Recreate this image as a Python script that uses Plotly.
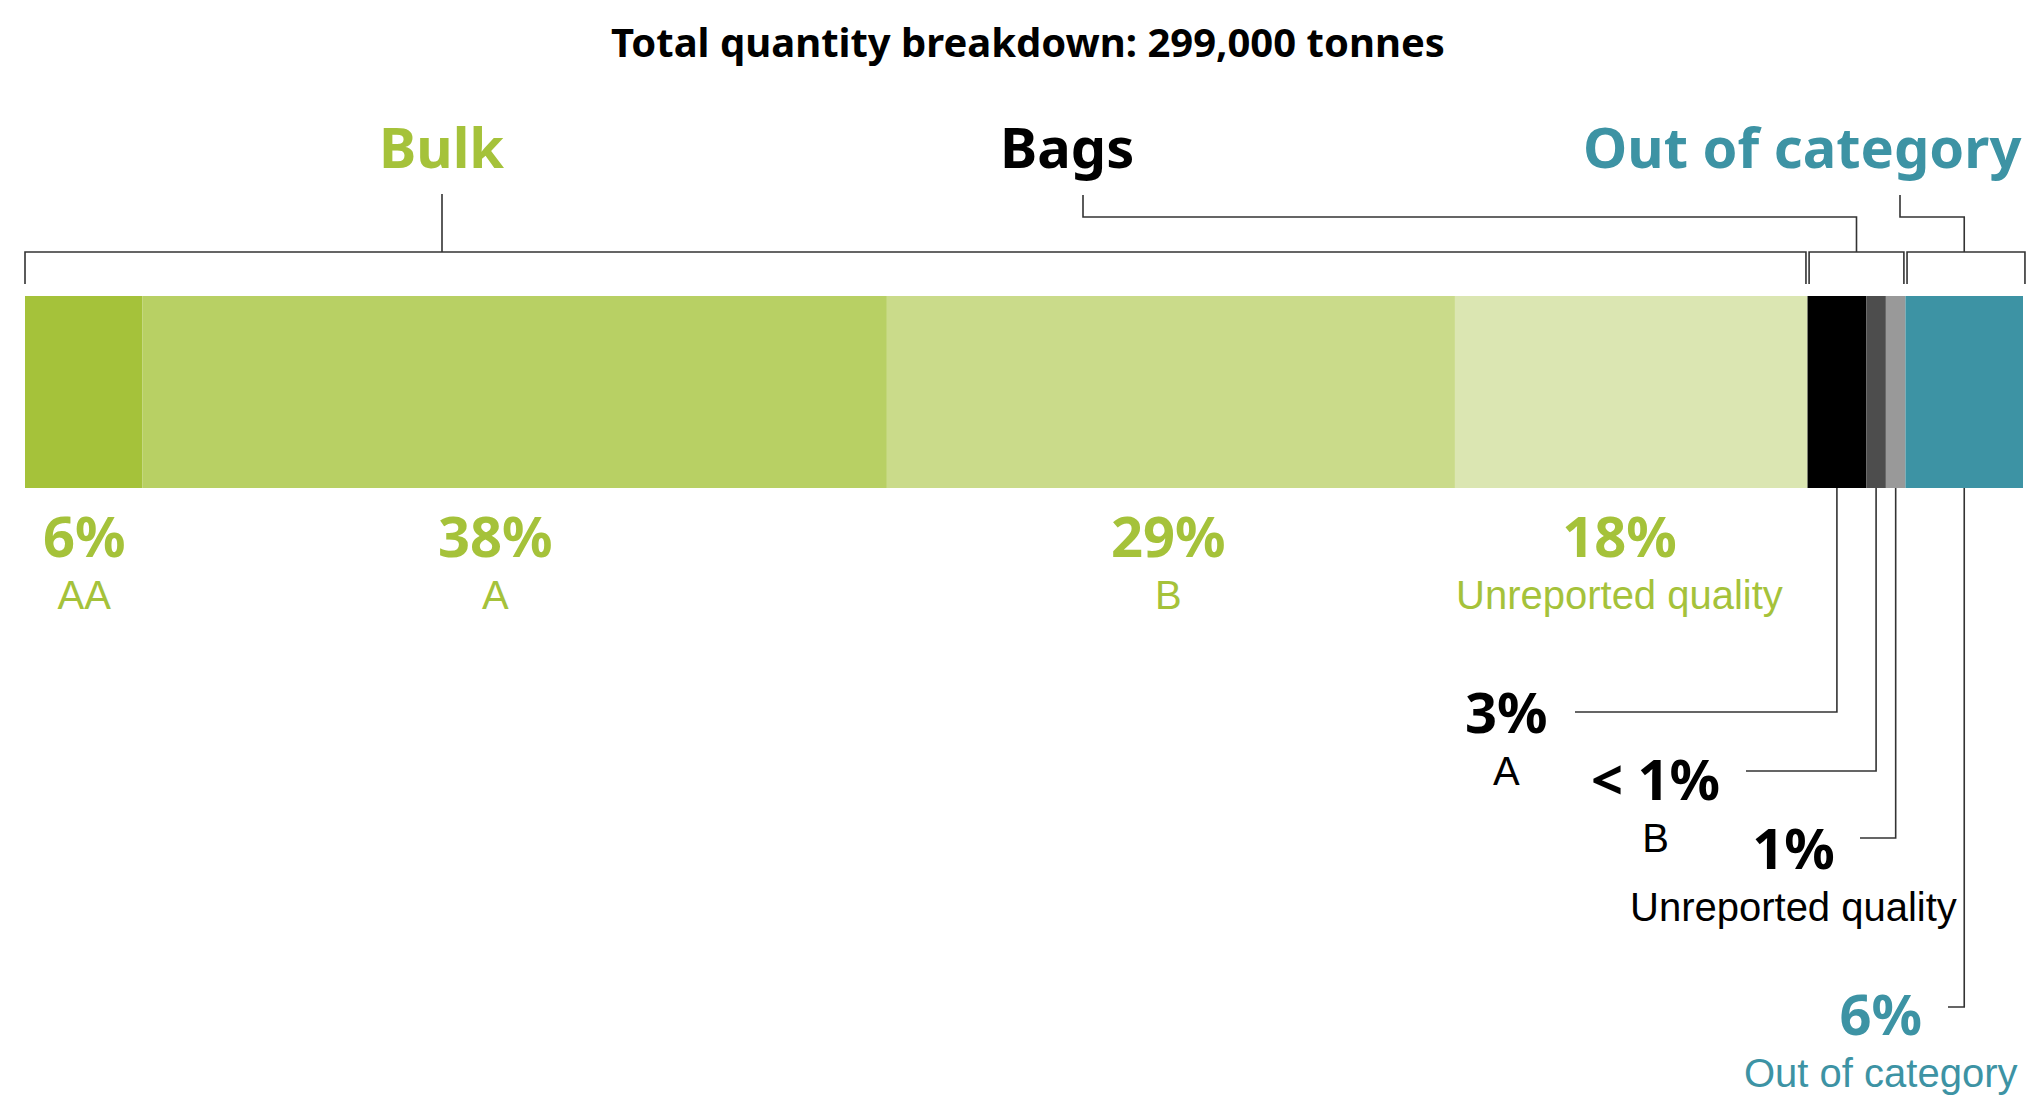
import plotly.graph_objects as go

# ---- data -------------------------------------------------------------
segments = ["Bulk AA", "Bulk A", "Bulk B", "Bulk unreported",
            "Bags A", "Bags B", "Bags unreported", "Out of category"]
shares = [6, 38, 29, 18, 3, 1, 1, 6]                      # percent of total
pct_labels = ["6%", "38%", "29%", "18%", "3%", "< 1%", "1%", "6%"]
sub_labels = ["AA", "A", "B", "Unreported quality",
              "A", "B", "Unreported quality", "Out of category"]
groups = ["Bulk", "Bags", "Out of category"]
group_members = [[0, 1, 2, 3], [4, 5, 6], [7]]
title_text = "Total quantity breakdown: 299,000 tonnes"

# ---- styling ----------------------------------------------------------
W, H = 2028, 1096
GREEN = "#A5C23A"
TEAL = "#3D93A4"
seg_colors = ["#A5C23A", "#B8D064", "#CADB8A", "#DBE6B2",
              "#000000", "#4D4D4D", "#999999", "#3D93A4"]
label_colors = [GREEN] * 4 + ["#000000"] * 3 + [TEAL]
group_colors = [GREEN, "#000000", TEAL]
LINE = "#333333"
HEAD_FONT = "Noto Sans"
BODY_FONT = "Liberation Sans, Arial, sans-serif"
PCT_SIZE, SUB_SIZE = 56, 40

# plot area spans the page; x in percent units, y in pixels (top = 0)
total = sum(shares)
PX_L, PX_R = 25, 2023
unit = (PX_R - PX_L) / total
x_lo = -PX_L / unit
x_hi = total + (W - PX_R) / unit


def px(p):
    """Horizontal pixel position -> x-axis units."""
    return x_lo + p / W * (x_hi - x_lo)


BAR_TOP, BAR_BOT = 296, 488
starts = [sum(shares[:i]) for i in range(len(shares))]
centers = [s + v / 2 for s, v in zip(starts, shares)]

fig = go.Figure()
fig.add_trace(go.Bar(
    orientation="h",
    y=[(BAR_TOP + BAR_BOT) / 2] * len(shares),
    x=shares,
    base=starts,
    width=BAR_BOT - BAR_TOP,
    marker=dict(color=seg_colors, line=dict(width=0)),
    hoverinfo="skip",
))

shapes = []


def path(points):
    d = "M " + " L ".join(f"{x},{y}" for x, y in points)
    shapes.append(dict(type="path", path=d, xref="x", yref="y",
                       line=dict(color=LINE, width=1.6)))


# brackets above the bar
BR_Y, BR_TICK = 252, 284
GAP = 0.08
group_spans = []
for gi, members in enumerate(group_members):
    g0 = starts[members[0]]
    g1 = starts[members[-1]] + shares[members[-1]]
    a = g0 + (GAP if gi > 0 else 0)
    b = g1 - (GAP if gi < len(group_members) - 1 else -0.1)
    path([(a, BR_TICK), (a, BR_Y), (b, BR_Y), (b, BR_TICK)])
    group_spans.append((g0, g1))

# stems from brackets to group headings
ELBOW_Y, STEM_TOP = 217, 195
path([(px(442), BR_Y), (px(442), 194)])
bags_mid = sum(group_spans[1]) / 2
path([(bags_mid, BR_Y), (bags_mid, ELBOW_Y), (px(1083), ELBOW_Y), (px(1083), STEM_TOP)])
out_mid = sum(group_spans[2]) / 2
path([(out_mid, BR_Y), (out_mid, ELBOW_Y), (px(1900), ELBOW_Y), (px(1900), STEM_TOP)])

# leader lines for the narrow segments
leader_ends = {4: (712, 1575), 5: (771, 1746), 6: (838, 1860), 7: (1007, 1948)}
for i, (ly, lx) in leader_ends.items():
    path([(centers[i], BAR_BOT), (centers[i], ly), (px(lx), ly)])

annotations = []


def text(x, y, s, size, color, family, bold=False, xanchor="center"):
    annotations.append(dict(
        x=x, y=y, xref="x", yref="y", text=s, showarrow=False,
        xanchor=xanchor, yanchor="middle",
        font=dict(family=family, size=size, color=color,
                  weight=700 if bold else 400),
    ))


# title and group headings
text(px(1028), 41, title_text, 40, "#000000", HEAD_FONT, bold=True)
head_pos = [(px(441), "center"), (px(1067), "center"), (px(2023), "right")]
for g, (hx, anchor), c in zip(groups, head_pos, group_colors):
    text(hx, 146, g, 56, c, HEAD_FONT, bold=True, xanchor=anchor)

# segment labels: percentage line on top, quality line below (one block each)
label_pos = {
    0: (84, 557), 1: (495, 557), 2: (1168, 557), 3: (1619, 557),
    4: (1506, 733), 5: (1655, 800), 6: (1793, 869), 7: (1880, 1035),
}
for i, (cx, cy) in label_pos.items():
    block = (f"<span style='font-family:{HEAD_FONT};font-size:{PCT_SIZE}px;"
             f"font-weight:700'>{pct_labels[i]}</span><br>{sub_labels[i]}")
    text(px(cx), cy, block, SUB_SIZE, label_colors[i], BODY_FONT)

fig.update_layout(
    width=W, height=H,
    margin=dict(l=0, r=0, t=0, b=0),
    paper_bgcolor="white", plot_bgcolor="white",
    showlegend=False, hovermode=False,
    barmode="overlay",
    xaxis=dict(range=[x_lo, x_hi], visible=False, fixedrange=True),
    yaxis=dict(range=[H, 0], visible=False, fixedrange=True),
    shapes=shapes,
    annotations=annotations,
)

fig.write_html("out.html", config={"displayModeBar": False})
